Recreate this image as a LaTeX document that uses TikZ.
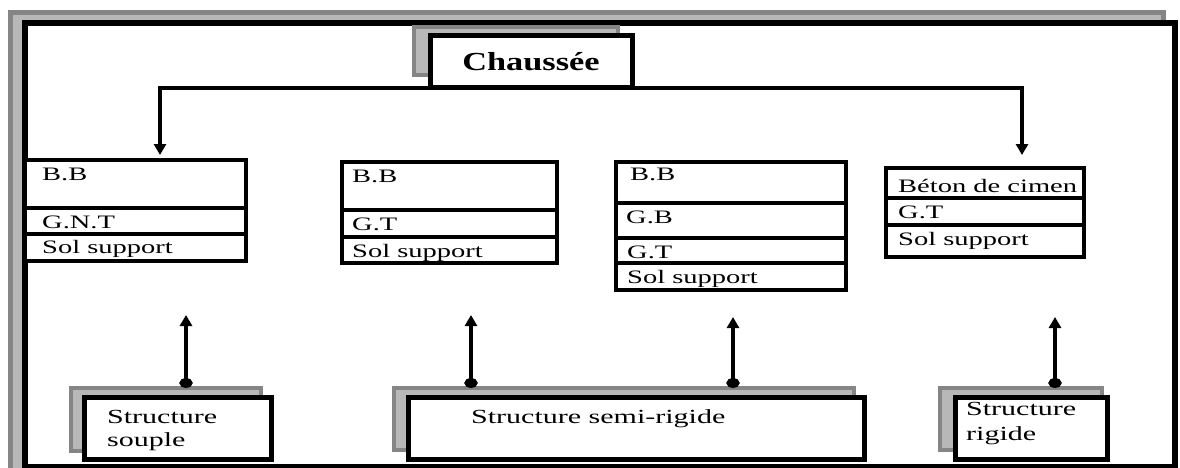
\documentclass[tikz,border=0pt]{standalone}
\usepackage{fontspec}
\setmainfont{Liberation Serif}
\newfontfamily\widefont{Liberation Serif}[FakeStretch=1.5]
\newfontfamily\chfont{Liberation Serif}[FakeStretch=1.32]
\usetikzlibrary{arrows.meta}
\definecolor{shdark}{HTML}{858585}
\definecolor{shlight}{HTML}{B8B8B8}
\begin{document}
\begin{tikzpicture}[x=1pt,y=-1pt,
  rowbox/.style n args={2}{draw=black, line width=4pt, fill=white, inner sep=0pt, outer sep=0pt,
     minimum width=#1, minimum height=#2, anchor=north west},
  shadowbox/.style n args={2}{draw=shdark, fill=shlight, line width=4pt, inner sep=0pt, outer sep=0pt,
     minimum width=#1, minimum height=#2, anchor=north west},
  mainbox/.style n args={2}{draw=black, fill=white, line width=5pt, inner sep=0pt, outer sep=0pt,
     minimum width=#1, minimum height=#2, anchor=north west},
  lbl/.style={anchor=base west, inner sep=0pt, font=\widefont\fontsize{19}{22}\selectfont},
  blbl/.style={anchor=base west, inner sep=0pt, font=\widefont\fontsize{20}{23}\selectfont},
  conn/.style={line width=4.5pt, line join=miter, -{Triangle[width=12pt,length=11pt]}},
  upconn/.style={line width=4pt, {Circle[width=13pt,length=10pt]}-{Triangle[width=12pt,length=11pt]}}
]
\useasboundingbox (0,0) rectangle (1180,468);
\clip (0,0) rectangle (1180,468);
% outer frame with shadow
\draw[draw=shdark, fill=shlight, line width=5pt] (10,12.5) rectangle (1163,500);
\draw[line width=5.5pt, fill=white] (25,23) rectangle (1175,467);

% title
\node[shadowbox={204pt}{48pt}] (chs) at (414,27) {};
\node[mainbox={202pt}{52.5pt}, font=\chfont\bfseries\fontsize{26}{30}\selectfont] (ch) at (430,35.5) {Chauss\'ee};

% box 1 : souple
\node[rowbox={221pt}{48pt}] (a1) at (25,160) {};
\node[rowbox={221pt}{26pt}] (a2) at (25,208) {};
\node[rowbox={221pt}{27pt}] (a3) at (25,234) {};
\node[lbl] (ta1) at (42,180) {B.B};
\node[lbl] (ta2) at (42,228) {G.N.T};
\node[lbl] (ta3) at (42,253) {Sol support};

% box 2
\node[rowbox={215pt}{48pt}] (b1) at (342,162) {};
\node[rowbox={215pt}{27pt}] (b2) at (342,210) {};
\node[rowbox={215pt}{26pt}] (b3) at (342,237) {};
\node[lbl] (tb1) at (352,182) {B.B};
\node[lbl] (tb2) at (352,230) {G.T};
\node[lbl] (tb3) at (352,257) {Sol support};

% box 3
\node[rowbox={230pt}{41pt}] (c1) at (616,162) {};
\node[rowbox={230pt}{35pt}] (c2) at (616,203) {};
\node[rowbox={230pt}{25pt}] (c3) at (616,238) {};
\node[rowbox={230pt}{27pt}] (c4) at (616,263) {};
\node[lbl] (tc1) at (630,180) {B.B};
\node[lbl] (tc2) at (626,223) {G.B};
\node[lbl] (tc3) at (627,258) {G.T};
\node[lbl] (tc4) at (627,283) {Sol support};

% box 4
\node[rowbox={198pt}{30pt}] (d1) at (886,168) {};
\node[rowbox={198pt}{27pt}] (d2) at (886,198) {};
\node[rowbox={198pt}{32pt}] (d3) at (886,225) {};
\node[lbl] (td1) at (898,192) {B\'eton de cimen};
\node[lbl] (td2) at (898,218) {G.T};
\node[lbl] (td3) at (898,245) {Sol support};

% connectors from title
\coordinate (tipL) at (160,155);
\coordinate (tipR) at (1022,155);
\draw[conn] (ch.south) -| (tipL);
\draw[conn] (ch.south) -| (tipR);

% bottom structure boxes
\node[shadowbox={190pt}{63pt}] (s1s) at (71,388) {};
\node[mainbox={187pt}{62pt}] (s1) at (84.5,397.5) {};
\node[blbl] (ts1a) at (107,423) {Structure};
\node[blbl] (ts1b) at (107,446) {souple};

\node[shadowbox={460pt}{62pt}] (s2s) at (394,388) {};
\node[mainbox={456pt}{62pt}] (s2) at (408.5,397.5) {};
\node[blbl] (ts2) at (471,423) {Structure semi-rigide};

\node[shadowbox={162pt}{62pt}] (s3s) at (940,388) {};
\node[mainbox={152pt}{62pt}] (s3) at (955.5,397.5) {};
\node[blbl] (ts3a) at (966,415) {Structure};
\node[blbl] (ts3b) at (966,440) {rigide};

% upward arrows
\coordinate (u1) at (186,315);
\coordinate (u2) at (471,315);
\coordinate (u3) at (733,317);
\coordinate (u4) at (1055,317);
\draw[upconn] (u1 |- s1s.north) -- (u1);
\draw[upconn] (u2 |- s2s.north) -- (u2);
\draw[upconn] (u3 |- s2s.north) -- (u3);
\draw[upconn] (u4 |- s3s.north) -- (u4);
\end{tikzpicture}
\end{document}
